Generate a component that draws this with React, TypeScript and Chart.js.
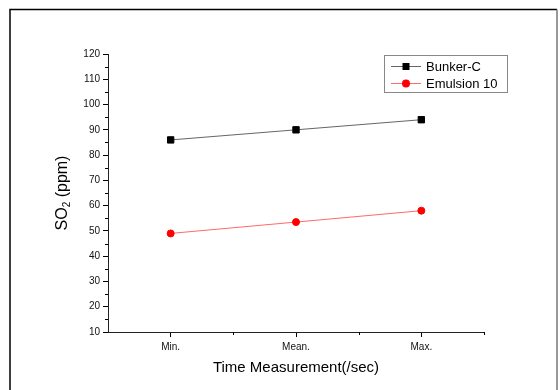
import React, { useEffect, useRef } from 'react';
import { Chart, registerables } from 'chart.js';

Chart.register(...registerables);

// ---- data ----
const categories = ['Min.', 'Mean.', 'Max.'];
const bunkerC = [86, 90, 94];
const emulsion10 = [49, 53.5, 58];
const seriesLabels = ['Bunker-C', 'Emulsion 10'];
const yMin = 10;
const yMax = 120;
const yStep = 10;
const yMinorStep = 5;
const xTitle = 'Time Measurement(/sec)';
const yTitleMain = 'SO';
const yTitleSub = '2';
const yTitleRest = ' (ppm)';

const FONT = '"Liberation Sans", Arial, sans-serif';

const decorPlugin = {
  id: 'decor',
  beforeDraw(chart: any) {
    const ctx = chart.ctx;
    ctx.save();
    ctx.fillStyle = '#fff';
    ctx.fillRect(0, 0, chart.width, chart.height);
    // outer frame
    ctx.lineWidth = 1.5;
    ctx.strokeStyle = '#000';
    ctx.beginPath();
    ctx.moveTo(10, 400);
    ctx.lineTo(10, 9.5);
    ctx.lineTo(557, 9.5);
    ctx.stroke();
    ctx.strokeStyle = '#777';
    ctx.beginPath();
    ctx.moveTo(557, 9.5);
    ctx.lineTo(557, 400);
    ctx.stroke();
    ctx.restore();
  },
  afterDraw(chart: any) {
    const ctx = chart.ctx;
    const area = chart.chartArea;
    const xs = chart.scales.x;
    const ys = chart.scales.y;
    ctx.save();
    // minor ticks
    ctx.strokeStyle = '#000';
    ctx.lineWidth = 1;
    ctx.beginPath();
    for (let v = yMin + yMinorStep; v < yMax; v += yStep) {
      const py = Math.round(ys.getPixelForValue(v)) + 0.5;
      ctx.moveTo(area.left - 3, py);
      ctx.lineTo(area.left, py);
    }
    for (let i = 0; i < categories.length; i++) {
      const px = Math.round(xs.getPixelForValue(i + 0.5)) + 0.5;
      ctx.moveTo(px, area.bottom);
      ctx.lineTo(px, area.bottom + 3);
    }
    ctx.stroke();

    // axis titles
    ctx.fillStyle = '#000';
    ctx.font = '15px ' + FONT;
    ctx.textAlign = 'center';
    ctx.textBaseline = 'middle';
    ctx.fillText(xTitle, (area.left + area.right) / 2, 368);

    // y title with subscript
    const cy = (area.top + area.bottom) / 2;
    ctx.translate(61, cy);
    ctx.rotate(-Math.PI / 2);
    ctx.textAlign = 'left';
    ctx.textBaseline = 'alphabetic';
    const mainFont = '16px ' + FONT;
    const subFont = '10px ' + FONT;
    ctx.font = mainFont;
    const w1 = ctx.measureText(yTitleMain).width;
    const w3 = ctx.measureText(yTitleRest).width;
    ctx.font = subFont;
    const w2 = ctx.measureText(yTitleSub).width;
    let sx = -(w1 + w2 + w3) / 2;
    const base = 6;
    ctx.font = mainFont;
    ctx.fillText(yTitleMain, sx, base);
    sx += w1;
    ctx.font = subFont;
    ctx.fillText(yTitleSub, sx, base + 3);
    sx += w2;
    ctx.font = mainFont;
    ctx.fillText(yTitleRest, sx, base);
    ctx.restore();

    // legend
    ctx.save();
    const lx = area.right - 100;
    const ly = area.top + 1;
    ctx.strokeStyle = '#888';
    ctx.lineWidth = 1;
    ctx.strokeRect(lx + 0.5, ly + 0.5, 123, 37);
    const rows = [ly + 11.5, ly + 28.5];
    chart.data.datasets.forEach((ds: any, i: number) => {
      const ry = rows[i];
      ctx.strokeStyle = ds.borderColor;
      ctx.lineWidth = 1;
      ctx.beginPath();
      ctx.moveTo(lx + 7, ry);
      ctx.lineTo(lx + 37, ry);
      ctx.stroke();
      ctx.fillStyle = ds.pointBackgroundColor;
      if (ds.pointStyle === 'rect') {
        ctx.fillRect(lx + 22 - 3.5, ry - 3.5, 7, 7);
      } else {
        ctx.beginPath();
        ctx.arc(lx + 22, ry, 4, 0, Math.PI * 2);
        ctx.fill();
      }
      ctx.fillStyle = '#000';
      ctx.font = '13px ' + FONT;
      ctx.textAlign = 'left';
      ctx.textBaseline = 'middle';
      ctx.fillText(ds.label, lx + 42, ry + 0.5);
    });
    ctx.restore();
  },
};

export default function App() {
  const ref = useRef<HTMLCanvasElement>(null);
  useEffect(() => {
    if (!ref.current) return;
    const chart = new Chart(ref.current, {
      type: 'line',
      data: {
        labels: categories,
        datasets: [
          {
            label: seriesLabels[0],
            data: bunkerC,
            borderColor: '#666',
            borderWidth: 1,
            pointStyle: 'rect',
            pointRadius: 4.5,
            pointBorderWidth: 1,
            pointBackgroundColor: '#000',
            pointBorderColor: '#000',
          },
          {
            label: seriesLabels[1],
            data: emulsion10,
            borderColor: '#ff6a6a',
            borderWidth: 1,
            pointStyle: 'circle',
            pointRadius: 3.5,
            pointBorderWidth: 1,
            pointBackgroundColor: '#ff0000',
            pointBorderColor: '#ff0000',
          },
        ],
      },
      options: {
        responsive: false,
        animation: false,
        devicePixelRatio: 1,
        layout: { padding: { left: 0, top: 54, right: 76, bottom: 0 } },
        plugins: {
          legend: { display: false },
          tooltip: { enabled: false },
        },
        scales: {
          x: {
            type: 'category',
            offset: true,
            grid: {
              drawOnChartArea: false,
              drawTicks: true,
              tickLength: 5,
              tickColor: '#000',
              offset: false,
            },
            border: { display: true, color: '#222', width: 1 },
            ticks: {
              color: '#111',
              font: { family: FONT, size: 10 },
              padding: 4,
              maxRotation: 0,
            },
            afterFit(scale: any) {
              scale.height = 390 - 332;
            },
          },
          y: {
            type: 'linear',
            min: yMin,
            max: yMax,
            grid: {
              drawOnChartArea: false,
              drawTicks: true,
              tickLength: 5,
              tickColor: '#000',
            },
            border: { display: true, color: '#222', width: 1 },
            ticks: {
              stepSize: yStep,
              color: '#111',
              font: { family: FONT, size: 10 },
              padding: 3,
            },
            afterFit(scale: any) {
              scale.width = 108;
            },
          },
        },
      },
      plugins: [decorPlugin],
    });
    return () => chart.destroy();
  }, []);
  return (
    <div style={{ position: 'absolute', left: 0, top: 0, width: 560, height: 390 }}>
      <canvas ref={ref} width={560} height={390} />
    </div>
  );
}
